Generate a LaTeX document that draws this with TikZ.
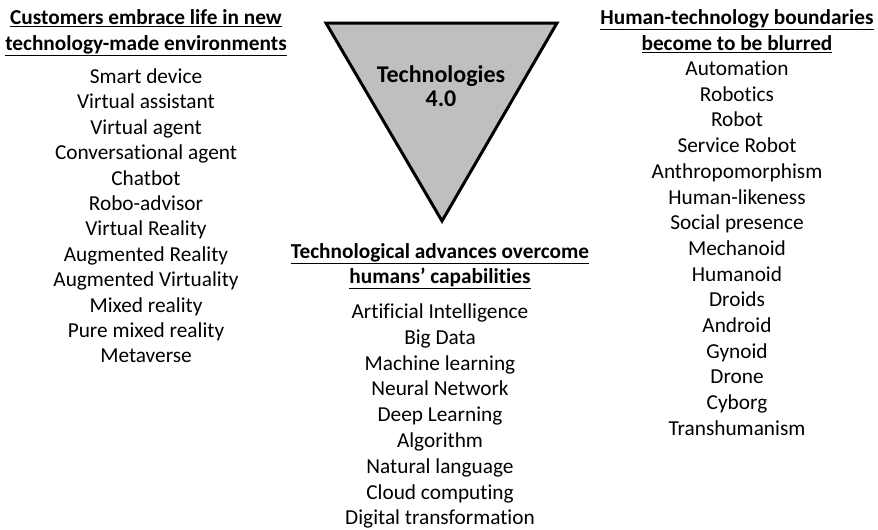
\documentclass[tikz,border=0pt]{standalone}
\usepackage{fontspec}
\setmainfont{Carlito}[Ligatures=NoCommon]
\begin{document}
\begin{tikzpicture}[x=1pt,y=-1pt,
  item/.style={anchor=base,inner sep=0pt,font=\fontsize{21.3}{24}\selectfont},
  head/.style={anchor=base,inner sep=0pt,font=\bfseries\fontsize{21.3}{24}\selectfont},
  trihead/.style={anchor=base,inner sep=0pt,font=\bfseries\fontsize{24}{26}\selectfont},
  tri/.style={draw=black,line width=3pt,fill=black!25,line join=miter}]
\useasboundingbox (0,0) rectangle (878,530);

% central inverted triangle
\coordinate (tl) at (326,23);
\coordinate (tr) at (557,23);
\coordinate (tb) at (442,221);
\draw[tri] (tl) -- (tr) -- (tb) -- cycle;
\node[trihead] (t1) at (441,82.5) {Technologies};
\node[trihead] (t2) at (441,106) {4.0};

% left column
\node[head] (lh1) at (146,24.5) {\underline{Customers embrace life in new}};
\node[head] (lh2) at (146,50.5) {\underline{technology-made environments}};
\foreach \t [count=\i] in {Smart device,Virtual assistant,Virtual agent,Conversational agent,Chatbot,Robo-advisor,Virtual Reality,Augmented Reality,Augmented Virtuality,Mixed reality,Pure mixed reality,Metaverse}
  \node[item] (l\i) at (146,{83.5+(\i-1)*25.4}) {\t};

% right column
\node[head] (rh1) at (737,24.5) {\underline{Human-technology boundaries}};
\node[head] (rh2) at (737,50.5) {\underline{become to be blurred}};
\foreach \t [count=\i] in {Automation,Robotics,Robot,Service Robot,Anthropomorphism,Human-likeness,Social presence,Mechanoid,Humanoid,Droids,Android,Gynoid,Drone,Cyborg,Transhumanism}
  \node[item] (r\i) at (737,{75.5+(\i-1)*25.7}) {\t};

% middle column
\node[head] (mh1) at (440,258.5) {\underline{Technological advances overcome}};
\node[head] (mh2) at (440,283.5) {\underline{humans’ capabilities}};
\foreach \t [count=\i] in {Artificial Intelligence,Big Data,Machine learning,Neural Network,Deep Learning,Algorithm,Natural language,Cloud computing,Digital transformation}
  \node[item] (m\i) at (440,{318.5+(\i-1)*25.8}) {\t};
\end{tikzpicture}
\end{document}
